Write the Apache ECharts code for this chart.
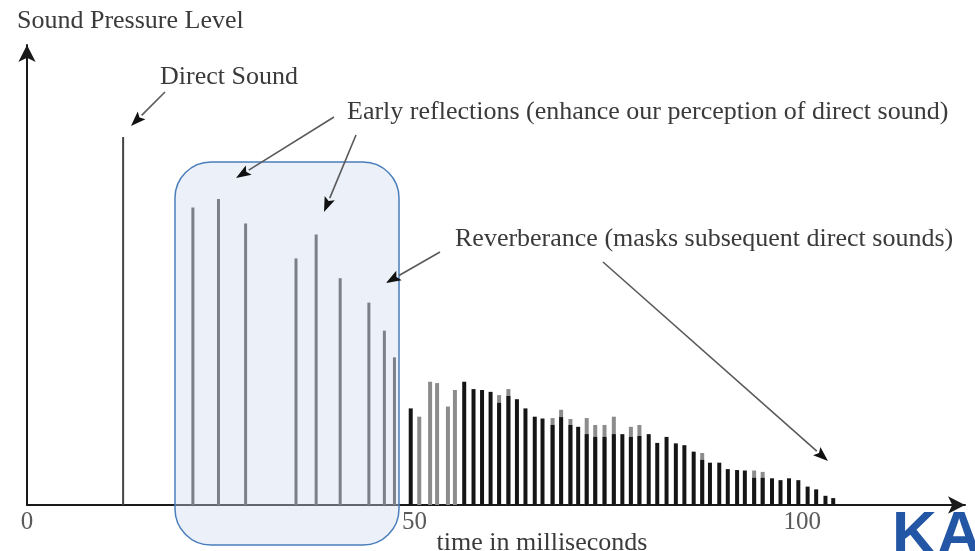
<!DOCTYPE html>
<html>
<head>
<meta charset="utf-8">
<script src="https://cdn.jsdelivr.net/npm/echarts@6/dist/echarts.min.js"></script>
<style>
  html, body { margin: 0; padding: 0; background: #fff; }
  #main { width: 975px; height: 551px; }
</style>
</head>
<body>
<div id="main"></div>
<script>
// time axis (ms) and level values
var xTicks = [0, 50, 100]
var directX = [12.4]
var directY = [80]
var earlyX = [21.4, 24.7, 28.2, 34.7, 37.3, 40.4, 44.1, 46.1, 47.4]
var earlyY = [64.7, 66.5, 61.2, 53.6, 58.8, 49.3, 44.0, 37.9, 32.1]
var reverbX = [49.5, 50.6, 52.0, 52.9, 54.3, 55.2, 56.4, 57.6, 58.7, 59.8,
  60.9, 62.1, 63.2, 64.3, 65.5, 66.5, 67.8, 68.9, 70.1, 71.1,
  72.2, 73.3, 74.5, 75.7, 76.8, 77.9, 79.0, 80.2, 81.3, 82.5,
  83.7, 84.8, 86.0, 87.1, 88.1, 89.3, 90.4, 91.6, 92.6, 93.8,
  94.9, 96.1, 97.2, 98.3, 99.5, 100.7, 101.8, 103.0, 104.0]
// dark spikes (null = only the grey one is there)
var reverbDark = [21.0, null, null, null, null, null, 26.8, 25.2, 25.0, 24.6,
  22.2, 23.7, 23.0, 21.0, 19.2, 18.8, 17.4, 19.1, 17.4, 17.0,
  15.4, 14.8, 14.8, 15.4, 15.4, 14.8, 15.0, 15.4, 13.5, 14.8,
  13.4, 13.0, 11.6, 9.8, 9.2, 9.2, 7.8, 7.6, 7.5, 5.9,
  5.9, 5.8, 5.4, 5.8, 5.4, 4.0, 3.4, 2.0, 1.5]
// grey spikes showing above / instead of the dark ones
var reverbGrey = [null, 19.2, 26.8, 26.5, 21.4, 25.0, null, null, null, null,
  23.9, 25.2, null, null, null, null, 18.9, 20.7, 18.7, null,
  18.9, 17.4, 17.4, 19.2, null, 17.0, 17.4, null, null, null,
  null, null, null, 11.3, null, null, null, null, null, 7.5,
  7.2, null, null, null, null, null, null, null, null]

var FONT = 'Liberation Serif'

function pairs(xs, ys) {
  var out = []
  for (var i = 0; i < xs.length; i++) {
    if (ys[i] != null) out.push([xs[i], ys[i]])
  }
  return out
}

// thin vertical spike from 0 up to the value
function spike(width, color) {
  return function (params, api) {
    var base = api.coord([api.value(0), 0])
    var top = api.coord([api.value(0), api.value(1)])
    return {
      type: 'rect',
      shape: { x: base[0] - width / 2, y: top[1], width: width, height: base[1] - top[1] },
      style: { fill: color }
    }
  }
}

function spikeSeries(name, data, width, color) {
  return {
    name: name,
    type: 'custom',
    renderItem: spike(width, color),
    encode: { x: 0, y: 1 },
    data: data,
    silent: true
  }
}

// annotation arrow: grey shaft, black head
function arrow(x1, y1, x2, y2) {
  var a = Math.atan2(y2 - y1, x2 - x1)
  var L = 15, W = 11
  var bx = x2 - L * Math.cos(a), by = y2 - L * Math.sin(a)
  var nx = -Math.sin(a) * W / 2, ny = Math.cos(a) * W / 2
  return [{
    type: 'line', z: 120,
    shape: { x1: x1, y1: y1, x2: bx, y2: by },
    style: { stroke: '#5a5a5a', lineWidth: 1.6 }
  }, {
    type: 'polygon', z: 120,
    shape: { points: [[x2, y2], [bx + nx, by + ny], [bx + 3 * Math.cos(a), by + 3 * Math.sin(a)], [bx - nx, by - ny]] },
    style: { fill: '#111' }
  }]
}

function label(text, x, y) {
  return {
    type: 'text', z: 120, left: x, top: y,
    style: { text: text, font: '26px "' + FONT + '"', fill: '#3a3a3a' }
  }
}

var chart = echarts.init(document.getElementById('main'))

var graphics = [
  {
    type: 'rect', z: 110,
    shape: { x: 175, y: 162, width: 224, height: 383, r: 36 },
    style: { fill: 'rgba(205,218,240,0.4)', stroke: '#4a7ebb', lineWidth: 1.5 }
  },
  label('Sound Pressure Level', 17, 8),
  label('Direct Sound', 160, 64),
  label('Early reflections (enhance our perception of direct sound)', 347, 99),
  label('Reverberance (masks subsequent direct sounds)', 455, 226),
  {
    type: 'text', z: 120, left: 892, top: 506,
    style: { text: 'KA', font: 'bold 62px "Liberation Sans"', fill: '#2456a6' }
  }
]
graphics = graphics
  .concat(arrow(165, 92, 131, 126))
  .concat(arrow(334, 117, 236, 178))
  .concat(arrow(356, 135, 324, 212))
  .concat(arrow(440, 252, 386, 283))
  .concat(arrow(603, 262, 828, 461))

chart.setOption({
  animation: false,
  backgroundColor: '#fff',
  grid: { left: 27, right: 10, top: 45, bottom: 46, containLabel: false, outerBoundsMode: 'none' },
  xAxis: {
    type: 'value',
    min: 0,
    max: 121,
    interval: 50,
    name: 'time in milliseconds',
    nameLocation: 'middle',
    nameGap: 25,
    nameMoveOverlap: false,
    nameTextStyle: { fontFamily: FONT, fontSize: 26, color: '#3a3a3a', padding: [0, 0, 0, 92] },
    axisLine: { show: true, symbol: ['none', 'arrow'], symbolSize: [13, 17], lineStyle: { color: '#1a1a1a', width: 2 } },
    axisTick: { show: false },
    splitLine: { show: false },
    axisLabel: {
      margin: 5,
      fontFamily: FONT,
      fontSize: 25,
      color: '#5a5a5a',
      showMaxLabel: false,
      formatter: function (v) { return xTicks.indexOf(v) >= 0 ? String(v) : '' }
    }
  },
  yAxis: {
    type: 'value',
    min: 0,
    max: 100,
    axisLine: { show: true, symbol: ['none', 'arrow'], symbolSize: [13, 17], lineStyle: { color: '#1a1a1a', width: 2 } },
    axisTick: { show: false },
    axisLabel: { show: false },
    splitLine: { show: false }
  },
  series: [
    spikeSeries('Direct Sound', pairs(directX, directY), 2, '#444'),
    spikeSeries('Early reflections', pairs(earlyX, earlyY), 3, '#444'),
    spikeSeries('Reverberance (grey)', pairs(reverbX, reverbGrey), 4, '#8c8c8c'),
    spikeSeries('Reverberance', pairs(reverbX, reverbDark), 4, '#151515')
  ],
  graphic: graphics
})
</script>
</body>
</html>
